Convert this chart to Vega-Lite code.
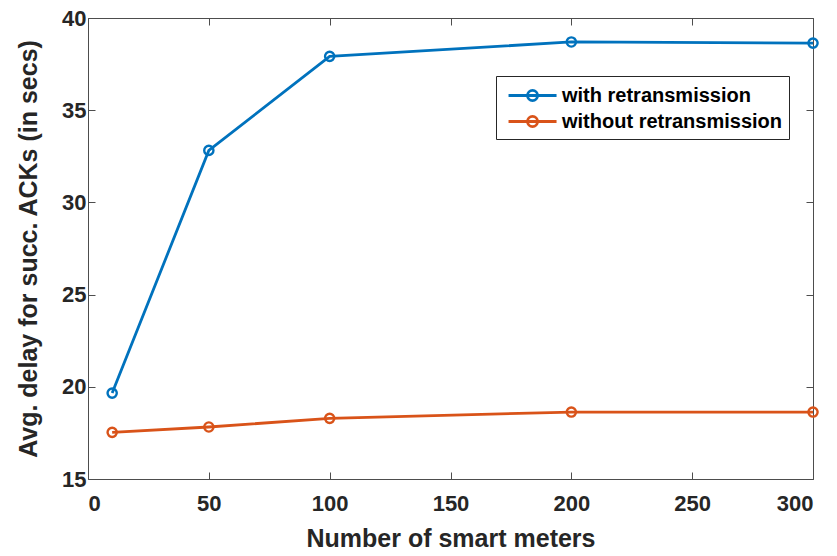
{
  "$schema": "https://vega.github.io/schema/vega-lite/v6.json",
  "width": 725,
  "height": 461,
  "autosize": "none",
  "padding": {"left": 88, "top": 18, "right": 24, "bottom": 77},
  "background": "white",
  "data": {
    "values": [
      {"series": "with retransmission", "meters": 10, "delay": 19.66},
      {"series": "with retransmission", "meters": 50, "delay": 32.82},
      {"series": "with retransmission", "meters": 100, "delay": 37.92},
      {"series": "with retransmission", "meters": 200, "delay": 38.70},
      {"series": "with retransmission", "meters": 300, "delay": 38.64},
      {"series": "without retransmission", "meters": 10, "delay": 17.53},
      {"series": "without retransmission", "meters": 50, "delay": 17.82},
      {"series": "without retransmission", "meters": 100, "delay": 18.29},
      {"series": "without retransmission", "meters": 200, "delay": 18.63},
      {"series": "without retransmission", "meters": 300, "delay": 18.63}
    ]
  },
  "config": {
    "view": {"stroke": null},
    "font": "Liberation Sans",
    "axis": {
      "domainColor": "#4d4d4d",
      "domainWidth": 1,
      "tickColor": "#4d4d4d",
      "tickSize": -7,
      "tickWidth": 1,
      "grid": false,
      "labelFont": "Liberation Sans",
      "labelFontWeight": "bold",
      "labelFontSize": 22,
      "labelColor": "#262626",
      "titleFont": "Liberation Sans",
      "titleFontWeight": "bold",
      "titleFontSize": 25,
      "titleColor": "#262626"
    },
    "legend": {
      "orient": "none",
      "legendX": 408,
      "legendY": 58,
      "padding": 6,
      "strokeColor": "#262626",
      "fillColor": "white",
      "labelFont": "Liberation Sans",
      "labelFontWeight": "bold",
      "labelFontSize": 20,
      "labelColor": "#000000",
      "labelOffset": 33,
      "labelLimit": 400,
      "rowPadding": 1,
      "symbolType": "M-0.58,0H3.42M1,0A0.42,0.42 0 1,0 1.84,0A0.42,0.42 0 1,0 1,0",
      "symbolSize": 576,
      "symbolStrokeWidth": 2.8,
      "symbolFillColor": "transparent",
      "symbolOpacity": 1,
      "title": null
    }
  },
  "layer": [
    {
      "mark": {"type": "line", "strokeWidth": 2.8},
      "encoding": {
        "x": {"field": "meters", "type": "quantitative", "scale": {"domain": [0, 300], "nice": false},
              "axis": {"orient": "bottom", "values": [0, 50, 100, 150, 200, 250, 300], "labelPadding": 21, "title": "Number of smart meters", "titlePadding": 12}},
        "y": {"field": "delay", "type": "quantitative", "scale": {"domain": [15, 40], "nice": false, "zero": false},
              "axis": {"orient": "left", "values": [15, 20, 25, 30, 35, 40], "labelPadding": 9, "title": "Avg. delay for succ. ACKs (in secs)", "titlePadding": 20}},
        "color": {"field": "series", "type": "nominal",
                  "scale": {"domain": ["with retransmission", "without retransmission"], "range": ["#0072BD", "#D95319"]},
                  "legend": {"title": null}}
      }
    },
    {
      "mark": {"type": "point", "filled": false, "size": 85, "strokeWidth": 2.4, "opacity": 1},
      "encoding": {
        "x": {"field": "meters", "type": "quantitative", "axis": null},
        "y": {"field": "delay", "type": "quantitative", "axis": null},
        "color": {"field": "series", "type": "nominal", "legend": null}
      }
    },
    {
      "mark": {"type": "point", "opacity": 0},
      "encoding": {
        "x": {"field": "meters", "type": "quantitative",
              "axis": {"orient": "top", "values": [0, 50, 100, 150, 200, 250, 300], "labels": false, "title": null}},
        "y": {"field": "delay", "type": "quantitative",
              "axis": {"orient": "right", "values": [15, 20, 25, 30, 35, 40], "labels": false, "title": null}}
      }
    }
  ],
  "resolve": {"axis": {"x": "independent", "y": "independent"}}
}
